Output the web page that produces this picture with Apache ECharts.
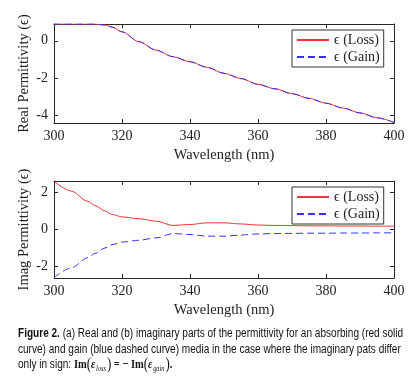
<!DOCTYPE html>
<html><head><meta charset="utf-8">
<script src="https://cdn.jsdelivr.net/npm/echarts@6/dist/echarts.min.js"></script>
<style>html,body{margin:0;padding:0;background:#fff}#c{width:413px;height:381px}</style>
</head><body><div id="c"></div>
<script>
const wavelength = [300,305,310,312,315,317,320,325,330,335,340,345,350,355,360,365,370,375,380,385,390,395,400];
const realLoss  = [0.9,0.9,0.9,0.9,0.84,0.74,0.48,-0.05,-0.5,-0.85,-1.12,-1.42,-1.74,-2.02,-2.33,-2.57,-2.83,-3.08,-3.34,-3.6,-3.86,-4.12,-4.37];
const realGain  = [0.9,0.9,0.9,0.9,0.84,0.74,0.48,-0.05,-0.5,-0.85,-1.12,-1.42,-1.74,-2.02,-2.33,-2.57,-2.83,-3.08,-3.34,-3.6,-3.86,-4.12,-4.37];
const imagLoss  = [2.6,2.08,1.52,1.3,1.0,0.82,0.68,0.58,0.45,0.22,0.27,0.36,0.36,0.3,0.24,0.22,0.21,0.2,0.2,0.19,0.19,0.18,0.18];
const imagGain  = [-2.6,-2.08,-1.52,-1.3,-1.0,-0.82,-0.68,-0.58,-0.45,-0.22,-0.27,-0.36,-0.36,-0.3,-0.24,-0.22,-0.21,-0.2,-0.2,-0.19,-0.19,-0.18,-0.18];
const xTicks = [300,320,340,360,380,400];
const realTicks = [-4,-2,0];
const imagTicks = [-2,0,2];
const nameLoss = 'ϵ (Loss)', nameGain = 'ϵ (Gain)';
const xName = 'Wavelength (nm)';
const yNames = ['Real Permittivity (ϵ)', 'Imag Permittivity (ϵ)'];

const SERIF = 'Liberation Serif';
const AX = '#262626';
const pairs = (xs, ys) => xs.map((x,i)=>[x, ys[i]]);

function xAx(grid, top){
  return {type:'value', gridIndex:grid, position: top?'top':'bottom', min:xTicks[0], max:xTicks[xTicks.length-1], interval:20,
    axisLine:{show:true,onZero:false,lineStyle:{color:AX,width:1}},
    axisTick:{show:true,inside:true,length:4,lineStyle:{color:AX}},
    axisLabel:{show:!top,color:'#222',fontFamily:SERIF,fontSize:14,margin:6},
    splitLine:{show:false},
    name: top?'':xName, nameLocation:'middle', nameGap:25, nameMoveOverlap:false,
    nameTextStyle:{color:'#222',fontFamily:SERIF,fontSize:14.5}};
}
function yAx(grid, right, min, max, ticks, name){
  return {type:'value', gridIndex:grid, position: right?'right':'left', min:min, max:max,
    axisLine:{show:true,onZero:false,lineStyle:{color:AX,width:1}},
    axisTick:{show:true,inside:true,length:4,customValues:ticks,lineStyle:{color:AX}},
    axisLabel:{show:!right,customValues:ticks,color:'#222',fontFamily:SERIF,fontSize:14,margin:6},
    splitLine:{show:false},
    name: right?'':name, nameLocation:'middle', nameGap:22, nameRotate:90, nameMoveOverlap:false,
    nameTextStyle:{color:'#222',fontFamily:SERIF,fontSize:14.5}};
}
function ser(name, x, y, data, dashed){
  const c = dashed ? '#3333ff' : '#ff3333';
  return {name:name, type:'line', xAxisIndex:x, yAxisIndex:y, data:data, symbol:'none', showSymbol:false,
    smooth:0.3, smoothMonotone:'x',
    lineStyle:{color:c,width:1,type: dashed?[7,4]:'solid'}, itemStyle:{color:c}, z: dashed?3:2};
}
function leg(top){
  return {data:[nameLoss,nameGain], orient:'vertical', left:292, top:top, width:93,
    backgroundColor:'#fff', borderColor:'#333', borderWidth:1, padding:[3,4,3,4],
    itemGap:3, itemWidth:32, itemHeight:12, selectedMode:false,
    itemStyle:{opacity:0},
    textStyle:{fontFamily:SERIF,fontSize:14,color:'#222'}};
}

const chart = echarts.init(document.getElementById('c'), null, {renderer:'canvas'});
chart.setOption({
  animation:false,
  backgroundColor:'#fff',
  grid:[{left:54,width:340,top:24,height:99},{left:54,width:340,top:181,height:97}],
  xAxis:[xAx(0,false),xAx(0,true),xAx(1,false),xAx(1,true)],
  yAxis:[yAx(0,false,-4.4,0.9,realTicks,yNames[0]),yAx(0,true,-4.4,0.9,realTicks),
         yAx(1,false,-2.62,2.62,imagTicks,yNames[1]),yAx(1,true,-2.62,2.62,imagTicks)],
  legend:[leg(30),leg(187)],
  series:[
    ser(nameLoss,0,0,pairs(wavelength,realLoss),false),
    ser(nameGain,0,0,pairs(wavelength,realGain),true),
    ser(nameLoss,2,2,pairs(wavelength,imagLoss),false),
    ser(nameGain,2,2,pairs(wavelength,imagGain),true)
  ]
});

// caption
const capFont = 'Liberation Sans Narrow, Liberation Sans, sans-serif';
const cv = document.createElement('canvas').getContext('2d');
function w(txt, bold, size, fam){ cv.font = (bold?'bold ':'') + size + 'px ' + (fam||capFont); return cv.measureText(txt).width; }
const fs = 12.5;
const l1a = 'Figure 2.', l1b = ' (a) Real and (b) imaginary parts of the permittivity for an absorbing (red solid';
const l2 = 'curve) and gain (blue dashed curve) media in the case where the imaginary pats differ';
const l3 = 'only in sign: ';
const s1 = 385 / (w(l1a,true,fs) + w(l1b,false,fs));
const s2 = 383 / w(l2,false,fs);
const sc = (s1+s2)/2;
const capCol = '#111';
chart.setOption({graphic:[
  {type:'text', left:18, top:327, scaleX:sc, style:{text:'{b|'+l1a+'}{n|'+l1b+'}', rich:{b:{fontFamily:capFont,fontWeight:'bold',fontSize:fs,fill:capCol},n:{fontFamily:capFont,fontSize:fs,fill:capCol}}}},
  {type:'text', left:18, top:343, scaleX:sc, style:{text:l2, fontFamily:capFont, fontSize:fs, fill:capCol}},
  {type:'text', left:18, top:357, scaleX:sc, style:{
    text:'{n|'+l3+'}{m|Im}{p|(}{e|ε}{s|loss}{p|)}{m| = − Im}{p|(}{e|ε}{s|gain}{p|)}{m|.}',
    rich:{n:{fontFamily:capFont,fontSize:fs,fill:capCol},
          m:{fontFamily:SERIF,fontSize:13,fontWeight:'bold',fill:capCol},
          p:{fontFamily:SERIF,fontSize:16,fill:capCol},
          e:{fontFamily:SERIF,fontSize:13,fontStyle:'italic',fontWeight:'bold',fill:capCol},
          s:{fontFamily:SERIF,fontSize:8,fontStyle:'italic',fill:capCol,verticalAlign:'bottom',padding:[6,1,0,1]}}}}
]});
</script></body></html>
